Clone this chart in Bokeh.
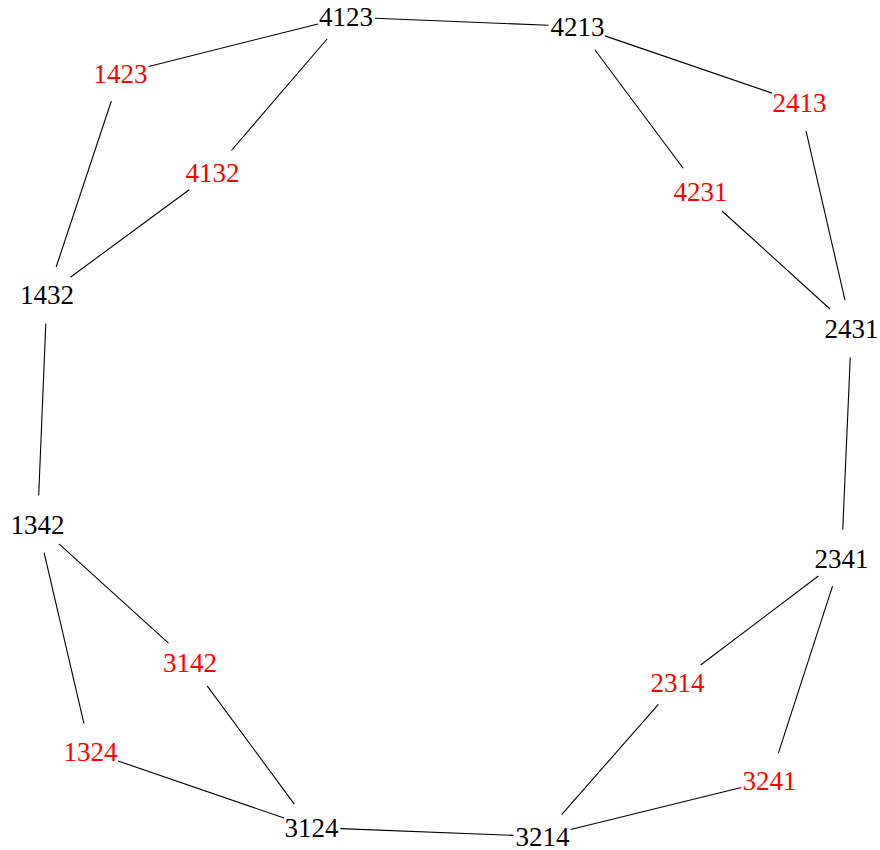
import math
from bokeh.plotting import figure
from bokeh.models import ColumnDataSource, Range1d
from bokeh.core.properties import value
from bokeh.embed import file_html
from bokeh.resources import INLINE

# Node labels and their positions (picture pixel coordinates, y grows downward)
labels = ["4123", "4213", "1423", "2413", "4132", "4231", "1432", "2431",
          "1342", "2341", "3142", "2314", "1324", "3241", "3124", "3214"]
xs = [345.5, 577, 120, 799, 212, 700, 46.5, 851,
      37, 841, 189.5, 677, 90, 769, 311, 542]
ys = [16.5, 26, 73, 102, 172, 191, 294, 328,
      524, 558, 662, 682, 751, 780, 827, 836]
highlighted = ["1423", "4132", "2413", "4231", "3142", "1324", "2314", "3241"]

edges = [("4123", "4213"), ("4123", "1423"), ("4123", "4132"),
         ("4213", "2413"), ("4213", "4231"), ("1423", "1432"),
         ("4132", "1432"), ("2413", "2431"), ("4231", "2431"),
         ("1432", "1342"), ("2431", "2341"), ("1342", "3142"),
         ("1342", "1324"), ("2341", "2314"), ("2341", "3241"),
         ("3142", "3124"), ("1324", "3124"), ("2314", "3214"),
         ("3241", "3214"), ("3124", "3214")]

NODE_R = 29.0  # node circle radius (lines stop at node boundary)

pos = {l: (x, y) for l, x, y in zip(labels, xs, ys)}
ex0, ey0, ex1, ey1 = [], [], [], []
for a, b in edges:
    (xa, ya), (xb, yb) = pos[a], pos[b]
    d = math.hypot(xb - xa, yb - ya)
    ux, uy = (xb - xa) / d, (yb - ya) / d
    ex0.append(xa + ux * NODE_R)
    ey0.append(ya + uy * NODE_R)
    ex1.append(xb - ux * NODE_R)
    ey1.append(yb - uy * NODE_R)

W, H = 880, 850
p = figure(width=W, height=H, output_backend="svg", toolbar_location=None,
           x_range=Range1d(0, W), y_range=Range1d(H, 0),
           min_border=0, outline_line_color=None)
p.axis.visible = False
p.grid.visible = False
p.background_fill_color = "white"
p.border_fill_color = "white"

p.segment(x0=ex0, y0=ey0, x1=ex1, y1=ey1, line_color="black", line_width=1.1)

colors = ["#ff0000" if l in highlighted else "#000000" for l in labels]
src = ColumnDataSource(dict(x=xs, y=ys, t=labels, c=colors))
p.text(x="x", y="y", text="t", source=src, text_color="c",
       text_font=value("Liberation Serif"), text_font_size="27px",
       text_align="center", text_baseline="middle")

open("out.html", "w").write(file_html(p, INLINE))
